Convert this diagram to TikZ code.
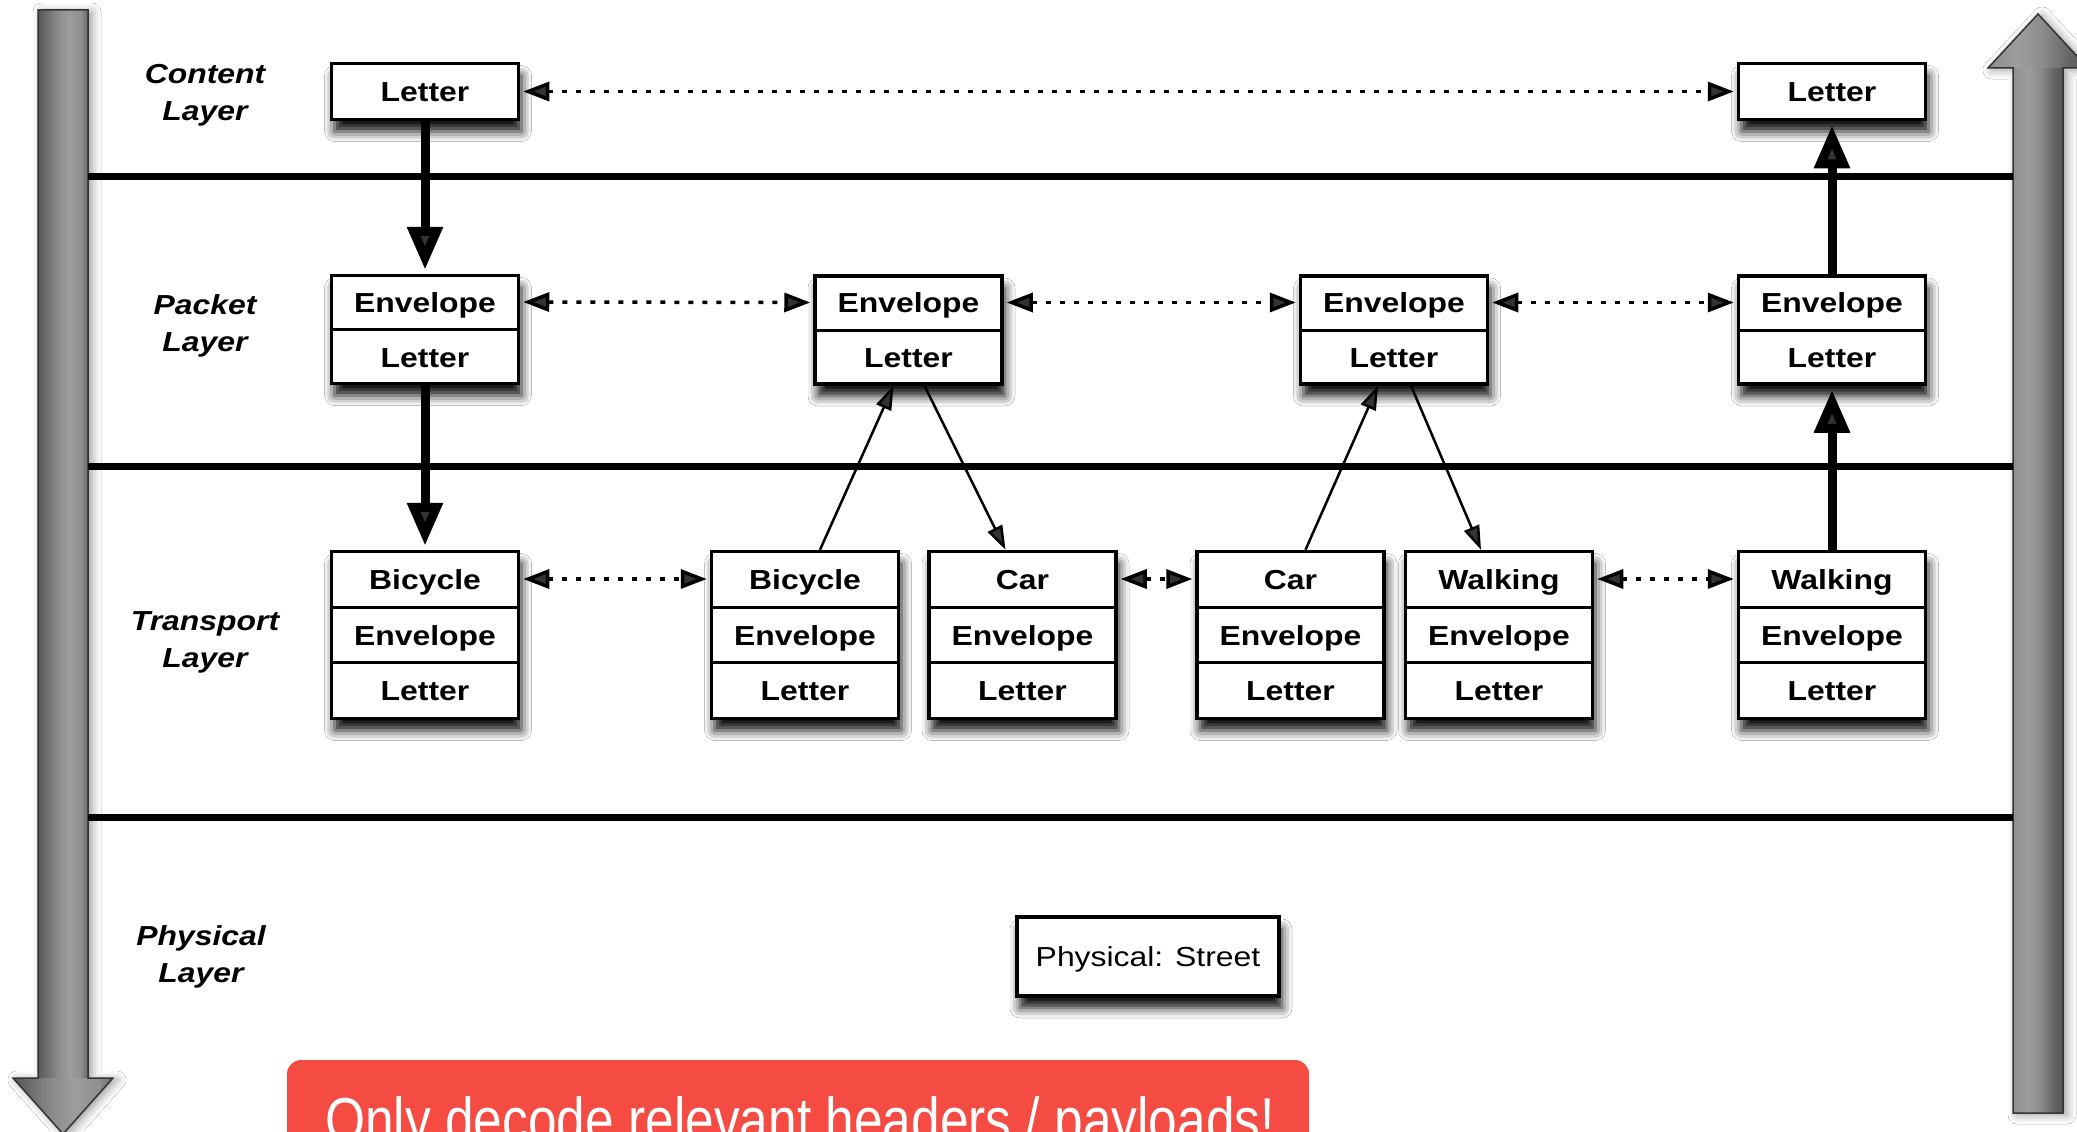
\documentclass[tikz,border=0pt]{standalone}
\usepackage{fontspec}
\setmainfont{Liberation Sans}
\newfontfamily\cellfont{Liberation Sans}[FakeStretch=1.16]
\newfontfamily\bannerfont{Liberation Sans}[FakeStretch=0.83]
\usetikzlibrary{arrows.meta,shadows.blur}
\definecolor{bannerred}{RGB}{244,75,66}
\definecolor{barA}{RGB}{86,86,86}
\definecolor{barB}{RGB}{140,140,140}
\definecolor{barC}{RGB}{157,157,157}
\definecolor{barD}{RGB}{143,143,143}
\definecolor{barE}{RGB}{100,100,100}

% metallic look of the two side bars (stops 25bp..75bp span the shaded path)
\pgfdeclarehorizontalshading{leftbar}{100bp}{color(0bp)=(barA); color(25bp)=(barA);
  color(45bp)=(barB); color(56bp)=(barC); color(68bp)=(barD); color(75bp)=(barE); color(100bp)=(barE)}
\pgfdeclarehorizontalshading{rightbar}{100bp}{color(0bp)=(barD); color(25bp)=(barD);
  color(40bp)=(barC); color(52bp)=(barB); color(66bp)=(barE); color(75bp)=(barA); color(100bp)=(barA)}

\tikzset{
  frame/.style={draw, line width=3.5pt, fill=white, inner sep=0pt, minimum width=187pt,
    blur shadow={shadow xshift=3pt, shadow yshift=-12pt, shadow blur radius=10pt, shadow opacity=95}},
  cell/.style={inner sep=0pt, anchor=base, font=\cellfont\bfseries\fontsize{27.5}{33}\selectfont},
  plain/.style={inner sep=0pt, anchor=base, font=\cellfont\fontsize{27.5}{33}\selectfont},
  divider/.style={line width=3pt},
  layerlabel/.style={align=center, inner sep=0pt, font=\cellfont\bfseries\itshape\fontsize{27.5}{37}\selectfont},
  layerline/.style={line width=7pt},
  barglow/.style={fill=white, blur shadow={shadow xshift=4pt, shadow yshift=-2pt, shadow blur radius=9pt, shadow opacity=40}},
  baroutline/.style={draw=black!80, line width=1.5pt},
  thickarrow/.style={line width=9pt, -{Triangle[length=43pt,width=34pt]}, shorten >=4pt},
  thinarrow/.style={line width=2.5pt, -{Triangle[length=24pt,width=16pt]}},
  dotarrow/.style={line width=3.5pt, dash pattern=on 5pt off 9pt,
    {Triangle[length=26pt,width=19pt]}-{Triangle[length=26pt,width=19pt]}, shorten <=3pt, shorten >=3pt},
  banner/.style={fill=bannerred, rounded corners=14pt},
}

% one-, two- and three-row stacked boxes: name, centre x, centre y, row texts
\newcommand\boxone[4]{%
  \node[frame, minimum height=56pt] (#1) at (#2,#3) {};
  \node[cell] (#1-a) at (#2,#3+10) {#4};}
\newcommand\boxtwo[5]{%
  \node[frame, minimum height=108pt] (#1) at (#2,#3) {};
  \draw[divider] (#1.west) -- (#1.east);
  \node[cell] (#1-a) at (#2,#3-27.5+10) {#4};
  \node[cell] (#1-b) at (#2,#3+27.5+10) {#5};}
\newcommand\boxthree[6]{%
  \node[frame, minimum height=167pt] (#1) at (#2,#3) {};
  \draw[divider] ([yshift=27.8pt]#1.west) -- ([yshift=27.8pt]#1.east);
  \draw[divider] ([yshift=-27.8pt]#1.west) -- ([yshift=-27.8pt]#1.east);
  \node[cell] (#1-a) at (#2,#3-55.7+10) {#4};
  \node[cell] (#1-b) at (#2,#3+10) {#5};
  \node[cell] (#1-c) at (#2,#3+55.7+10) {#6};}

\begin{document}
\begin{tikzpicture}[x=1pt, y=-1pt]
  \clip (0,0) rectangle (2077,1132);
  \fill[white] (0,0) rectangle (2077,1132);

  % left bar: pointing down
  \path[barglow] (38,10) -- (88,10) -- (88,1078) -- (113,1078) -- (63,1134)
    -- (13,1078) -- (38,1078) -- cycle;
  \shade[shading=leftbar] (38,10) rectangle (88,1079);
  \shade[shading=leftbar] (13,1078) -- (113,1078) -- (63,1134) -- cycle;
  \path[baroutline] (38,10) -- (88,10) -- (88,1078) -- (113,1078) -- (63,1134)
    -- (13,1078) -- (38,1078) -- cycle;

  % right bar: pointing up
  \path[barglow] (2013,1113) -- (2013,68) -- (1988,68) -- (2038,14) -- (2088,68)
    -- (2063,68) -- (2063,1113) -- cycle;
  \shade[shading=rightbar] (2013,67) rectangle (2063,1113);
  \shade[shading=rightbar] (1988,68) -- (2038,14) -- (2088,68) -- cycle;
  \path[baroutline] (2013,1113) -- (2013,68) -- (1988,68) -- (2038,14) -- (2088,68)
    -- (2063,68) -- (2063,1113) -- cycle;

  % layer separators
  \coordinate (l1w) at (88,176);  \coordinate (l1e) at (2013,176);
  \coordinate (l2w) at (88,466);  \coordinate (l2e) at (2013,466);
  \coordinate (l3w) at (88,817);  \coordinate (l3e) at (2013,817);
  \draw[layerline] (l1w) -- (l1e);
  \draw[layerline] (l2w) -- (l2e);
  \draw[layerline] (l3w) -- (l3e);

  % layer names
  \node[layerlabel] (lc) at (205,95) {Content\\Layer};
  \node[layerlabel] (lp) at (205,326) {Packet\\Layer};
  \node[layerlabel] (lt) at (205,642) {Transport\\Layer};
  \node[layerlabel] (lph) at (201,957) {Physical\\Layer};

  % content layer
  \boxone{c1}{425}{91.5}{Letter}
  \boxone{c2}{1832}{91.5}{Letter}

  % packet layer
  \boxtwo{p1}{425}{329.5}{Envelope}{Letter}
  \boxtwo{p2}{908.5}{330}{Envelope}{Letter}
  \boxtwo{p3}{1394}{330}{Envelope}{Letter}
  \boxtwo{p4}{1832}{330}{Envelope}{Letter}

  % transport layer
  \boxthree{t1}{425}{635}{Bicycle}{Envelope}{Letter}
  \boxthree{t2}{805}{635}{Bicycle}{Envelope}{Letter}
  \boxthree{t3}{1022.5}{635}{Car}{Envelope}{Letter}
  \boxthree{t4}{1290.5}{635}{Car}{Envelope}{Letter}
  \boxthree{t5}{1499}{635}{Walking}{Envelope}{Letter}
  \boxthree{t6}{1832}{635}{Walking}{Envelope}{Letter}

  % physical layer
  \node[frame, minimum width=262pt, minimum height=79pt] (street) at (1148,956.5) {};
  \node[plain] (street-a) at (1148,966) {Physical: Street};

  % peer-to-peer links
  \draw[dotarrow] (c1.east) -- (c2.west);
  \draw[dotarrow] ([yshift=27.5pt]p1.east) -- ([yshift=27.5pt]p2.west);
  \draw[dotarrow] ([yshift=27.5pt]p2.east) -- ([yshift=27.5pt]p3.west);
  \draw[dotarrow] ([yshift=27.5pt]p3.east) -- ([yshift=27.5pt]p4.west);
  \draw[dotarrow] ([yshift=56pt]t1.east) -- ([yshift=56pt]t2.west);
  \draw[dotarrow] ([yshift=56pt]t3.east) -- ([yshift=56pt]t4.west);
  \draw[dotarrow] ([yshift=56pt]t5.east) -- ([yshift=56pt]t6.west);

  % encapsulation at the sender
  \draw[thickarrow] (c1.south) -- (p1.north);
  \draw[thickarrow] (p1.south) -- (t1.north);

  % decapsulation at the receiver
  \draw[thickarrow] (t6.north) -- (p4.south);
  \draw[thickarrow] (p4.north) -- (c2.south);

  % re-packing at the relays
  \draw[thinarrow] ([xshift=15pt]t2.north) -- ([xshift=-15pt]p2.south);
  \draw[thinarrow] ([xshift=16pt]p2.south) -- ([xshift=-17pt]t3.north);
  \draw[thinarrow] ([xshift=15pt]t4.north) -- ([xshift=-16pt]p3.south);
  \draw[thinarrow] ([xshift=17pt]p3.south) -- ([xshift=-18pt]t5.north);

  % callout
  \fill[banner] (287,1060) rectangle (1309,1170);
  \node[inner sep=0pt, anchor=base, text=white, font=\bannerfont\fontsize{62}{70}\selectfont]
    (msg) at (800,1141) {Only decode relevant headers / payloads!};
\end{tikzpicture}
\end{document}
